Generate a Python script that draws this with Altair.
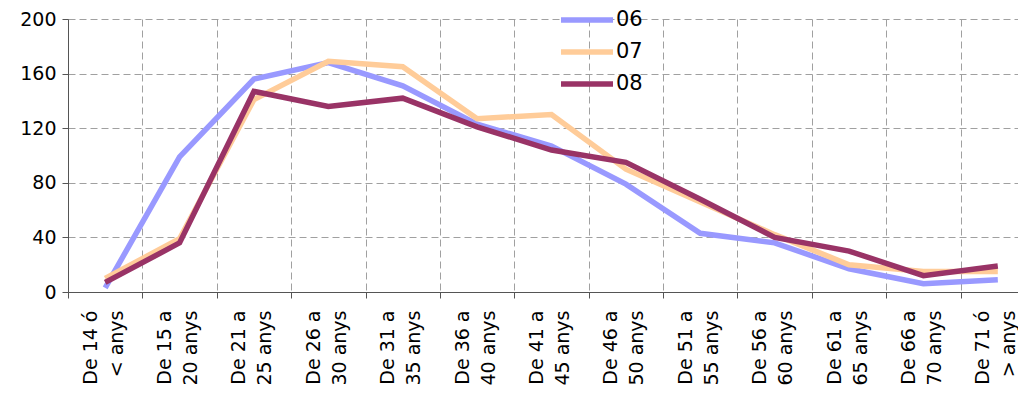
import altair as alt
import pandas as pd

categories = [
    "De 14 ó|< anys", "De 15 a|20 anys", "De 21 a|25 anys", "De 26 a|30 anys",
    "De 31 a|35 anys", "De 36 a|40 anys", "De 41 a|45 anys", "De 46 a|50 anys",
    "De 51 a|55 anys", "De 56 a|60 anys", "De 61 a|65 anys", "De 66 a|70 anys",
    "De 71 ó|> anys",
]
series_names = ["06", "07", "08"]
values_06 = [3, 99, 156, 168, 151, 123, 107, 79, 43, 36, 17, 6, 9]
values_07 = [10, 39, 141, 169, 165, 127, 130, 90, 66, 42, 20, 15, 15]
values_08 = [7, 36, 147, 136, 142, 121, 104, 95, 68, 40, 30, 12, 19]
colors = ["#9999FF", "#FFCC99", "#993366"]
y_ticks = [0, 40, 80, 120, 160, 200]

rows = []
for name, vals in zip(series_names, [values_06, values_07, values_08]):
    for c, v in zip(categories, vals):
        rows.append({"cat": c, "serie": name, "val": v})
df = pd.DataFrame(rows)

FONT = "DejaVu Sans"

chart = alt.Chart(df).mark_line(strokeWidth=5.5).encode(
    x=alt.X(
        "cat:N",
        sort=categories,
        title=None,
        scale=alt.Scale(type="band", domain=categories, range=[0, 967],
                        paddingInner=0, paddingOuter=0),
        axis=alt.Axis(
            tickBand="extent", grid=True, gridDash=[7, 4], gridColor="#A0A0A0",
            labelAngle=-90, labelExpr="split(datum.label, '|')",
            labelFont=FONT, labelFontSize=19, labelLineHeight=26,
            labelPadding=12, labelOffset=-15, labelColor="black",
            tickSize=6, tickColor="#555555", domainColor="#555555",
        ),
    ),
    y=alt.Y(
        "val:Q",
        title=None,
        scale=alt.Scale(domain=[0, 200], nice=False),
        axis=alt.Axis(
            values=y_ticks, grid=True, gridDash=[7, 4], gridColor="#A0A0A0",
            labelFont=FONT, labelFontSize=19, labelColor="black",
            labelPadding=6, tickSize=6, tickColor="#555555", domainColor="#555555",
        ),
    ),
    color=alt.Color(
        "serie:N",
        scale=alt.Scale(domain=series_names, range=colors),
        legend=alt.Legend(
            orient="none", legendX=506, legendY=-12, title=None,
            symbolType="M-2.6,0H2.6", symbolSize=400, symbolStrokeWidth=5.5,
            labelFont=FONT, labelFontSize=21, labelColor="black",
            labelOffset=16, rowPadding=8,
        ),
    ),
).properties(
    width=950,
    height=273,
    autosize=alt.AutoSizeParams(type="none"),
    padding={"left": 60, "top": 11, "right": 0, "bottom": 100},
).configure(font=FONT).configure_view(stroke=None)

chart.save("out.html", embed_options={"renderer": "svg", "actions": False})
